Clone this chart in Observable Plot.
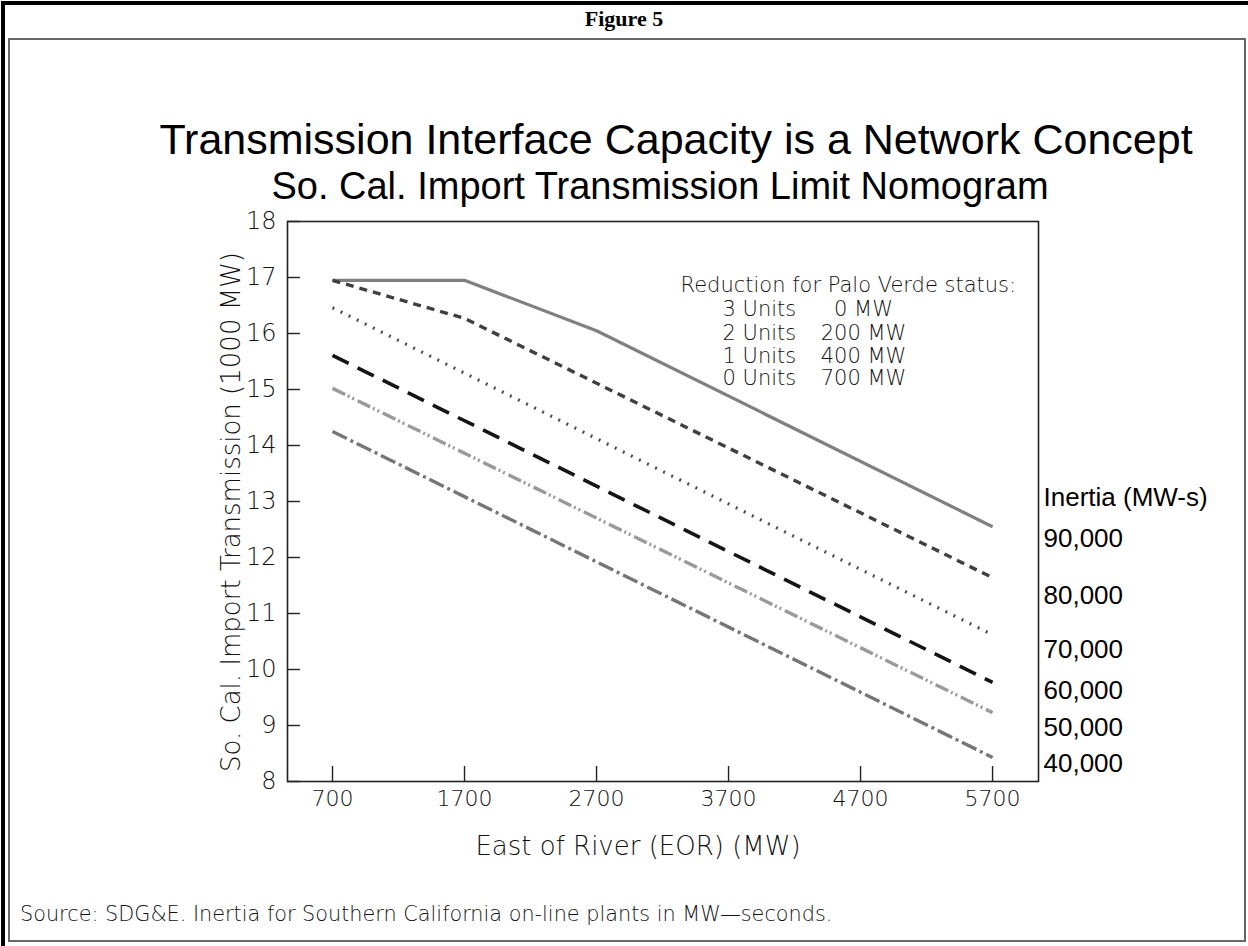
<!DOCTYPE html>
<html>
<head>
<meta charset="utf-8">
<script src="https://cdn.jsdelivr.net/npm/d3@7"></script>
<script src="https://cdn.jsdelivr.net/npm/@observablehq/plot@0.6"></script>
<style>
  html, body { margin: 0; padding: 0; background: #fff; }
  #page { position: relative; width: 1248px; height: 946px; overflow: hidden; background: #fff; }
  #chart { position: absolute; left: 0; top: 0; }
  .abs { position: absolute; white-space: nowrap; }
  .cad { font-family: "DejaVu Sans", sans-serif; font-weight: 200; color: #111; }
</style>
</head>
<body>
<div id="page">
  <div id="chart"></div>
  <div class="abs" style="left:1px;top:1px;width:1243px;height:950px;border:4px solid #000;border-bottom:none;"></div>
  <div class="abs" style="left:8px;top:38px;width:1234px;height:900px;border:2px solid #666;"></div>
  <div class="abs" id="fig" style="left:0;width:1248px;top:6px;text-align:center;font-family:'Liberation Serif',serif;font-weight:bold;font-size:22px;color:#000;">Figure 5</div>
  <div class="abs" id="title" style="left:0;width:1352px;top:115px;text-align:center;font-family:'Liberation Sans',Arial,sans-serif;font-size:43px;color:#000;">Transmission Interface Capacity is a Network Concept</div>
  <div class="abs" id="subtitle" style="left:0;width:1320px;top:165px;text-align:center;font-family:'Liberation Sans',Arial,sans-serif;font-size:38px;color:#000;">So. Cal. Import Transmission Limit Nomogram</div>
  <div class="abs cad" id="ylabel" style="left:231px;top:512px;font-size:26px;transform:translate(-50%,-50%) rotate(-90deg);"></div>
  <div class="abs cad" id="source" style="left:20px;top:902px;font-size:20.8px;">Source: SDG&amp;E. Inertia for Southern California on-line plants in MW&#8212;seconds.</div>
</div>
<script>
// ---- data ----
const xTicks = [700, 1700, 2700, 3700, 4700, 5700];
const yTicks = [8, 9, 10, 11, 12, 13, 14, 15, 16, 17, 18];
const inertiaLabels = ["90,000", "80,000", "70,000", "60,000", "50,000", "40,000"];

const eor90 = [700, 1700, 2700, 5700];
const mw90  = [16.95, 16.95, 16.05, 12.55];
const eor80 = [700, 1700, 5700];
const mw80  = [16.95, 16.27, 11.64];
const eor70 = [700, 5700];
const mw70  = [16.46, 10.62];
const eor60 = [700, 5700];
const mw60  = [15.61, 9.77];
const eor50 = [700, 5700];
const mw50  = [15.02, 9.23];
const eor40 = [700, 5700];
const mw40  = [14.25, 8.43];

const legendHeader = "Reduction for Palo Verde status:";
const pvUnits = ["3 Units", "2 Units", "1 Units", "0 Units"];
const pvReduction = ["0 MW", "200 MW", "400 MW", "700 MW"];

const xLabel = "East of River (EOR) (MW)";
const yLabel = "So. Cal. Import Transmission (1000 MW)";
const inertiaTitle = "Inertia (MW-s)";

// ---- build ----
document.getElementById("ylabel").textContent = yLabel;

const pts = (xs, ys) => xs.map((x, i) => ({x, y: ys[i]}));
const series = [
  {data: pts(eor90, mw90), stroke: "#808080", w: 3.2, dash: null},
  {data: pts(eor80, mw80), stroke: "#404040", w: 3.4, dash: "8,6"},
  {data: pts(eor70, mw70), stroke: "#505050", w: 3.2, dash: "2,7"},
  {data: pts(eor60, mw60), stroke: "#151515", w: 3.6, dash: "18,10"},
  {data: pts(eor50, mw50), stroke: "#9a9a9a", w: 3.4, dash: "14,3,2,3,2,4"},
  {data: pts(eor40, mw40), stroke: "#767676", w: 3.4, dash: "16,4,3,4"}
];
const labelNudge = [12, 18, 15, 8, 15, 6];
const ends = series.map((s, i) => ({y: s.data[s.data.length - 1].y, label: inertiaLabels[i], dy: labelNudge[i]}));

const cad = "'DejaVu Sans', sans-serif";
const arial = "'Liberation Sans', Arial, sans-serif";
const frameW = 1248 - 287 - 210;
const frameH = 946 - 221 - 165;

const lineMarks = series.map(s => Plot.line(s.data, {
  x: "x", y: "y", stroke: s.stroke, strokeWidth: s.w,
  strokeDasharray: s.dash, strokeLinecap: "butt", strokeLinejoin: "round"
}));

const endMarks = ends.map(e => Plot.text([e], {y: "y", text: "label", frameAnchor: "right", textAnchor: "start",
  dx: 5, dy: e.dy, fontSize: 26, fontFamily: arial, fontWeight: 400, fill: "#000"}));

const rowDy = [80, 104, 127, 149];
const legendMarks = pvUnits.flatMap((u, i) => [
  Plot.text([u], {text: d => d, frameAnchor: "top-left", textAnchor: "start", dx: 435, dy: rowDy[i], fontSize: 21, fill: "#111"}),
  Plot.text([pvReduction[i]], {text: d => d, frameAnchor: "top-left", textAnchor: "middle", dx: 576, dy: rowDy[i], fontSize: 21, fill: "#111"})
]);

const chart = Plot.plot({
  width: 1248,
  height: 946,
  marginLeft: 287,
  marginRight: 210,
  marginTop: 221,
  marginBottom: 165,
  style: {background: "transparent", fontFamily: cad, fontWeight: 200, color: "#111"},
  x: {domain: [359, 6048], label: null},
  y: {domain: [8, 18], label: null},
  marks: [
    ...lineMarks,
    Plot.frame({stroke: "#222", strokeWidth: 1.6}),
    Plot.tickX(xTicks, {x: d => d, insetTop: frameH - 15, stroke: "#222", strokeWidth: 1.4}),
    Plot.tickY(yTicks, {y: d => d, insetRight: frameW - 13, stroke: "#222", strokeWidth: 1.4}),
    Plot.axisX(xTicks, {tickSize: 0, tickPadding: 9, fontSize: 22, label: null, fill: "#111", tickFormat: d => String(d)}),
    Plot.axisY(yTicks, {tickSize: 0, tickPadding: 11, fontSize: 24, label: null, fill: "#111", tickFormat: d => String(d)}),
    Plot.text([xLabel], {text: d => d, frameAnchor: "bottom", dx: -25, dy: 73, fontSize: 26, fill: "#111"}),
    ...endMarks,
    Plot.text([inertiaTitle], {y: () => ends[0].y, text: d => d, frameAnchor: "right", textAnchor: "start", dx: 5, dy: -29,
      fontSize: 26, fontFamily: arial, fontWeight: 400, fill: "#000"}),
    Plot.text([legendHeader], {text: d => d, frameAnchor: "top-left", textAnchor: "start", dx: 393, dy: 56, fontSize: 21, fill: "#111"}),
    ...legendMarks
  ]
});
document.getElementById("chart").appendChild(chart);
</script>
</body>
</html>
